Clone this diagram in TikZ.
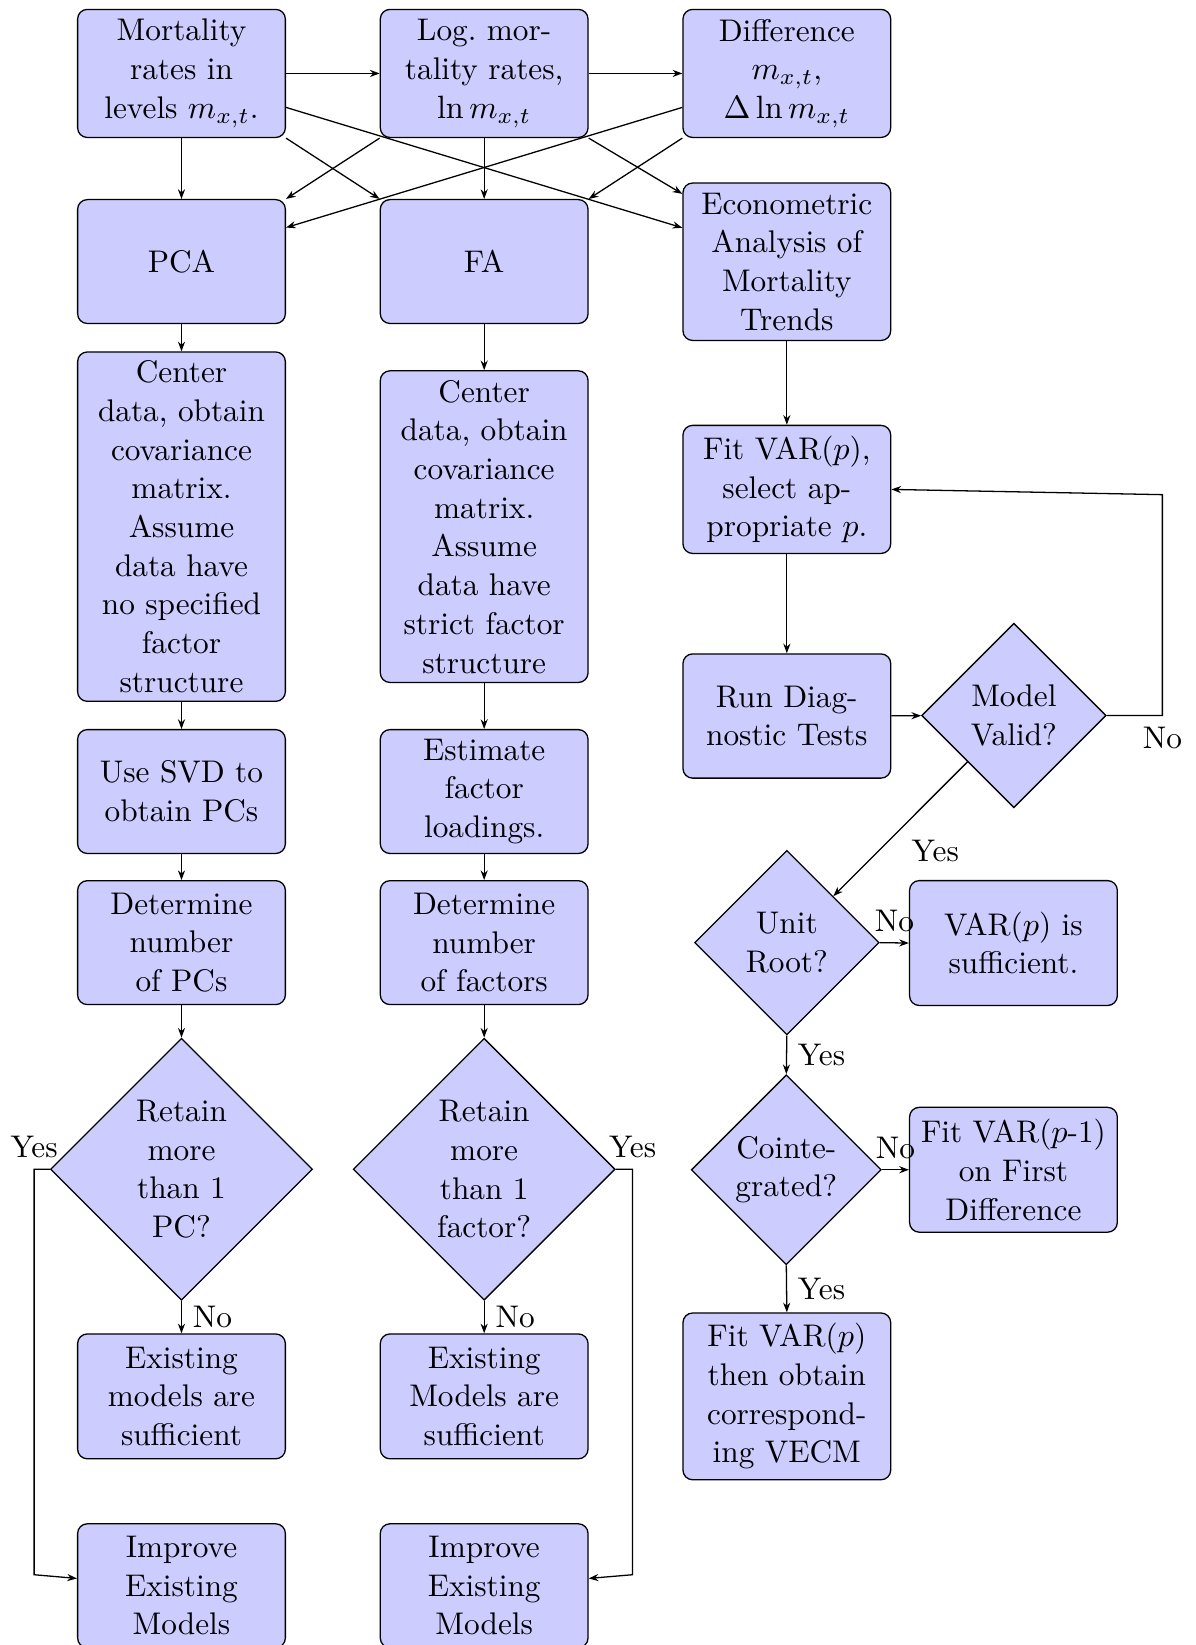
\documentclass[tikz,border=0pt]{standalone}
\usetikzlibrary{shapes.geometric,arrows.meta}
\begin{document}
\begin{tikzpicture}[x=0.3252pt,y=-0.3252pt,
  every node/.style={font=\fontsize{9.7pt}{12pt}\selectfont},
  box/.style={draw, fill=blue!20, rounded corners=3pt, minimum width=64.4pt, align=center, inner sep=1pt},
  dia/.style={draw, fill=blue!20, diamond, aspect=1, align=center, inner sep=0pt},
  arr/.style={-{Stealth[length=3pt,width=2.2pt]}},
  lbl/.style={inner sep=3.33pt}]
\useasboundingbox (0,0) rectangle (1140,1568);
% row 1
\node[box, minimum height=39.7pt] (m1) at (173,70) {Mortality\\rates in\\levels $m_{x,t}$.};
\node[box, minimum height=39.7pt] (l1) at (461.5,70) {Log.\ mor-\\tality rates,\\$\ln m_{x,t}$};
\node[box, minimum height=39.7pt] (d1) at (750,70) {Difference\\$m_{x,t}$,\\$\Delta\ln m_{x,t}$};
% row 2
\node[box, minimum height=38.4pt] (pca) at (173,249.3) {PCA};
\node[box, minimum height=38.4pt] (fa) at (461.5,249.3) {FA};
\node[box, minimum height=48.8pt] (econ) at (750,249.5) {Econometric\\Analysis of\\Mortality\\Trends};
% col 1
\node[box, minimum height=108.3pt] (cen1) at (173,502) {Center\\data, obtain\\covariance\\matrix.\\Assume\\data have\\no specified\\factor\\structure};
\node[box, minimum height=38.4pt] (svd) at (173,754.5) {Use SVD to\\obtain PCs};
\node[box, minimum height=38.4pt] (det1) at (173,898.5) {Determine\\number\\of PCs};
\node[dia, minimum size=81.2pt] (ret1) at (173,1114.5) {Retain\\more\\than 1\\PC?};
\node[box, minimum height=38.7pt] (ex1) at (173,1331) {Existing\\models are\\sufficient};
\node[box, minimum height=38.4pt] (imp1) at (173,1511.5) {Improve\\Existing\\Models};
% col 2
\node[box, minimum height=96.6pt] (cen2) at (461.5,502) {Center\\data, obtain\\covariance\\matrix.\\Assume\\data have\\strict factor\\structure};
\node[box, minimum height=38.4pt] (est) at (461.5,754.5) {Estimate\\factor\\loadings.};
\node[box, minimum height=38.4pt] (det2) at (461.5,898.5) {Determine\\number\\of factors};
\node[dia, minimum size=81.2pt] (ret2) at (461.5,1114.5) {Retain\\more\\than 1\\factor?};
\node[box, minimum height=38.7pt] (ex2) at (461.5,1331) {Existing\\Models are\\sufficient};
\node[box, minimum height=38.4pt] (imp2) at (461.5,1511.5) {Improve\\Existing\\Models};
% col 3
\node[box, minimum height=39.7pt] (fit) at (750,466.5) {Fit VAR($p$),\\select ap-\\propriate $p$.};
\node[box, minimum height=38.5pt] (run) at (750,682.5) {Run Diag-\\nostic Tests};
\node[dia, minimum size=57.2pt] (valid) at (966.4,682) {Model\\Valid?};
\node[dia, minimum size=57.2pt] (unit) at (750,898.5) {Unit\\Root?};
\node[box, minimum height=38.7pt] (suff) at (966,898.9) {VAR($p$) is\\sufficient.};
\node[dia, minimum size=58.9pt] (coint) at (749.5,1115) {Cointe-\\grated?};
\node[box, minimum height=38.7pt] (fitd) at (966,1115) {Fit VAR($p$-1)\\on First\\Difference};
\node[box, minimum height=51.7pt] (vecm) at (750,1331) {Fit VAR($p$)\\then obtain\\correspond-\\ing VECM};
% top connectors
\draw[arr] (m1.east) -- (l1.west);
\draw[arr] (l1.east) -- (d1.west);
\draw[arr] (m1.south) -- (pca.north);
\draw[arr] (m1.south east) -- (fa.north west);
\draw[arr] (m1.-18) -- (econ.162);
\draw[arr] (l1.south west) -- (pca.north east);
\draw[arr] (l1.south) -- (fa.north);
\draw[arr] (l1.south east) -- (econ.147);
\draw[arr] (d1.198) -- (pca.18);
\draw[arr] (d1.south west) -- (fa.north east);
% column 1
\draw[arr] (pca) -- (cen1);
\draw[arr] (cen1) -- (svd);
\draw[arr] (svd) -- (det1);
\draw[arr] (det1) -- (ret1);
\draw[arr] (ret1.south) -- node[lbl, right] {No} (ex1.north);
\draw[arr] (ret1.west) -- ++(-15,0) node[lbl, above] {Yes} -- ++(0,386.5) -- (imp1.176);
% column 2
\draw[arr] (fa) -- (cen2);
\draw[arr] (cen2) -- (est);
\draw[arr] (est) -- (det2);
\draw[arr] (det2) -- (ret2);
\draw[arr] (ret2.south) -- node[lbl, right] {No} (ex2.north);
\draw[arr] (ret2.east) -- ++(16,0) node[lbl, above] {Yes} -- ++(0,386.5) -- (imp2.4);
% column 3
\draw[arr] (econ) -- (fit);
\draw[arr] (fit) -- (run);
\draw[arr] (run) -- (valid);
\draw[arr] (valid.east) -- ++(53,0) node[lbl, below] {No} -- ++(0,-210.5) -- (fit.east);
\draw[arr] (valid.south west) -- node[lbl, below right] {Yes} (unit.north east);
\draw[arr] (unit.east) -- node[lbl, above] {No} (suff.west);
\draw[arr] (unit.south) -- node[lbl, right] {Yes} (coint.north);
\draw[arr] (coint.east) -- node[lbl, above] {No} (fitd.west);
\draw[arr] (coint.south) -- node[lbl, right] {Yes} (vecm.north);
\end{tikzpicture}
\end{document}
